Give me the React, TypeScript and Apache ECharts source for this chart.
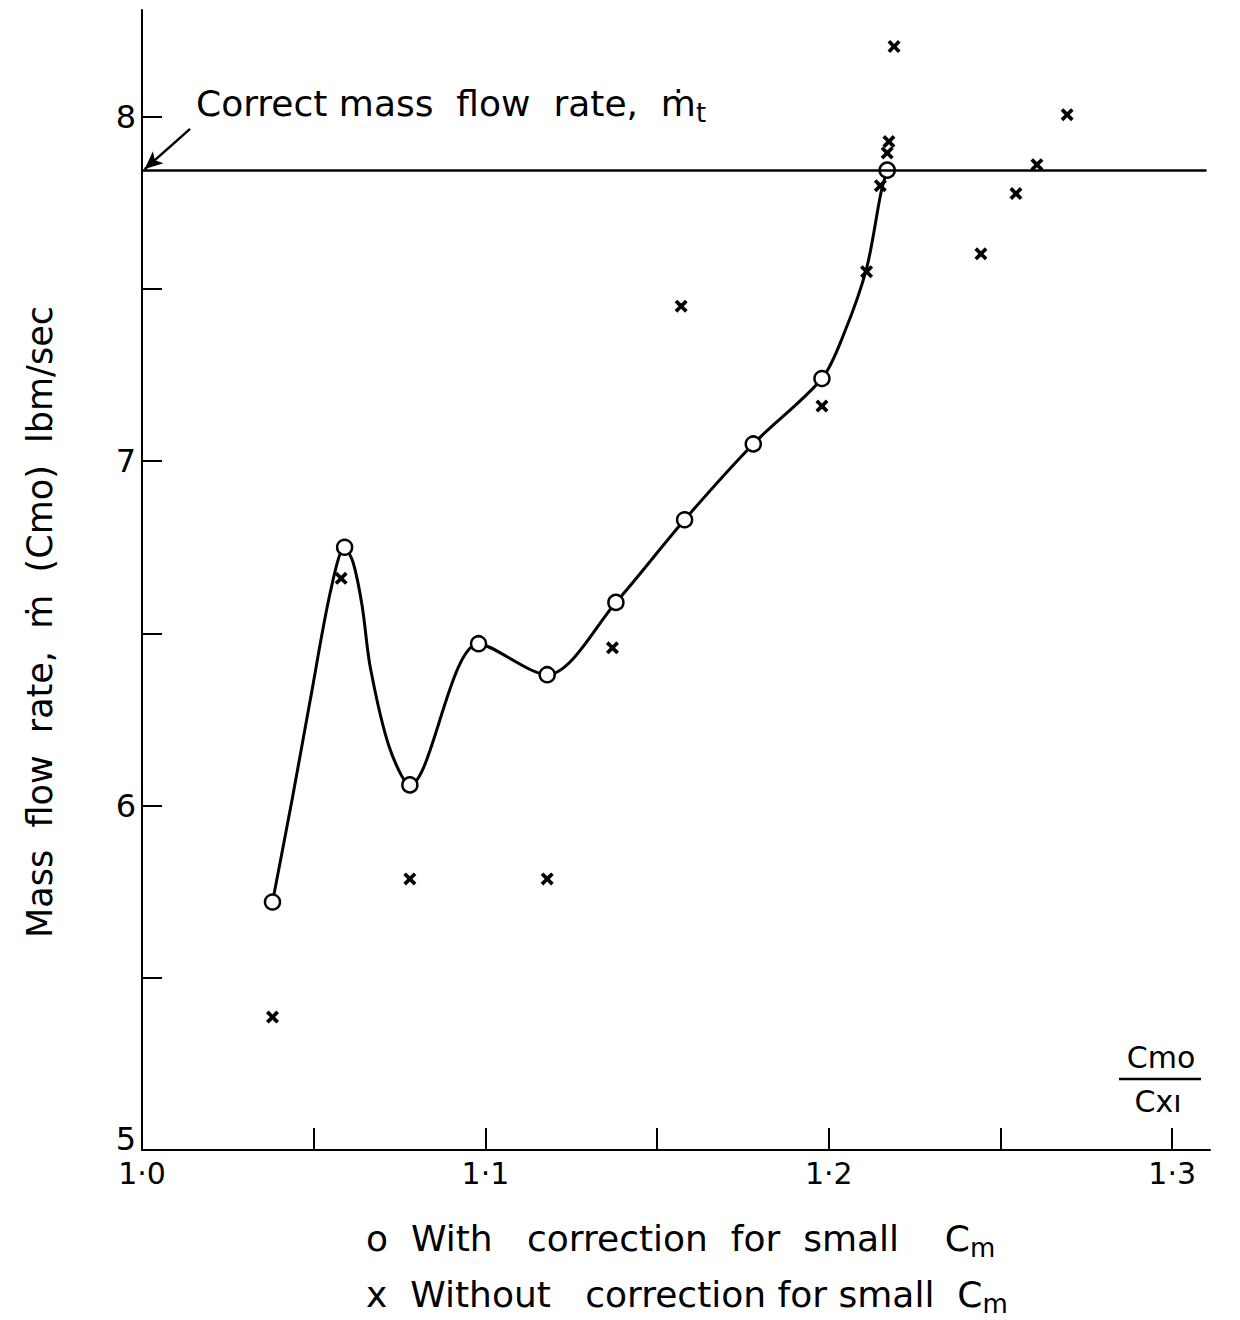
import React, { useEffect, useRef } from "react";
import * as echarts from "echarts";

// Data
const xWith = [1.038, 1.059, 1.078, 1.098, 1.118, 1.138, 1.158, 1.178, 1.198, 1.217];
const yWith = [5.72, 6.75, 6.06, 6.47, 6.38, 6.59, 6.83, 7.05, 7.24, 7.845];

const xWithout = [1.038, 1.058, 1.078, 1.118, 1.137, 1.157, 1.198, 1.211, 1.215, 1.217, 1.2175, 1.219, 1.2443, 1.2545, 1.2606, 1.2694];
const yWithout = [5.386, 6.66, 5.787, 5.787, 6.458, 7.45, 7.16, 7.55, 7.8, 7.895, 7.928, 8.204, 7.602, 7.777, 7.861, 8.006];

// Hand-drawn curve through the corrected points
const curveX = [1.038, 1.0437, 1.049, 1.0548, 1.059, 1.0615, 1.0641, 1.0665, 1.072, 1.078, 1.098, 1.118, 1.138, 1.158, 1.178, 1.198, 1.2044, 1.211, 1.2152, 1.217];
const curveY = [5.72, 6.017, 6.307, 6.618, 6.75, 6.705, 6.58, 6.4, 6.17, 6.06, 6.47, 6.38, 6.59, 6.83, 7.05, 7.24, 7.37, 7.56, 7.78, 7.845];

const correctRate = 7.845;
const xTickLabels: Record<string, string> = { "10": "1·0", "11": "1·1", "12": "1·2", "13": "1·3" };
const yTickLabels: Record<string, string> = { "5": "{low|5}", "6": "6", "7": "7", "8": "8" };

const FONT = "'DejaVu Sans', sans-serif";
const CROSS = "path://M0,2 L2,0 L5,3 L8,0 L10,2 L7,5 L10,8 L8,10 L5,7 L2,10 L0,8 L3,5 Z";

export default function App() {
  const ref = useRef<HTMLDivElement>(null);
  useEffect(() => {
    if (!ref.current) return;
    const chart = echarts.init(ref.current, undefined, { renderer: "svg" });
    const subRich = { sub: { fontSize: 26, fontFamily: FONT, padding: [20, 0, 0, 0] } };
    const option: any = {
      animation: false,
      backgroundColor: "#ffffff",
      textStyle: { fontFamily: FONT, color: "#000" },
      grid: { left: 142, right: 30, top: 10, bottom: 170, containLabel: false },
      xAxis: {
        type: "value",
        min: 1.0,
        max: 1.311,
        interval: 0.05,
        axisLine: { show: true, onZero: false, lineStyle: { color: "#000", width: 2 } },
        axisTick: { show: true, inside: true, length: 22, lineStyle: { color: "#000", width: 2 } },
        splitLine: { show: false },
        axisLabel: {
          color: "#000",
          fontSize: 30,
          fontFamily: FONT,
          margin: 8,
          showMaxLabel: false,
          formatter: (v: number) => {
            const k = v * 10;
            if (Math.abs(k - Math.round(k)) > 1e-6) return "";
            return xTickLabels[String(Math.round(k))] ?? "";
          },
        },
      },
      yAxis: {
        type: "value",
        min: 5,
        max: 8.31,
        interval: 0.5,
        axisLine: { show: true, onZero: false, lineStyle: { color: "#000", width: 2 } },
        axisTick: { show: true, inside: true, length: 20, lineStyle: { color: "#000", width: 2 } },
        splitLine: { show: false },
        axisLabel: {
          color: "#000",
          fontSize: 32,
          fontFamily: FONT,
          margin: 6,
          showMaxLabel: false,
          rich: { low: { fontSize: 32, fontFamily: FONT, padding: [0, 0, 22, 0] } },
          formatter: (v: number) => (Math.abs(v - Math.round(v)) < 1e-6 ? yTickLabels[String(Math.round(v))] ?? "" : ""),
        },
      },
      series: [
        {
          name: "curve",
          type: "line",
          data: curveX.map((x, i) => [x, curveY[i]]),
          smooth: 0.3,
          showSymbol: false,
          symbol: "none",
          lineStyle: { color: "#000", width: 3 },
          z: 2,
          markLine: {
            silent: true,
            symbol: ["none", "none"],
            label: { show: false },
            lineStyle: { color: "#000", width: 2.5, type: "solid" },
            data: [
              [
                { coord: [1.0, correctRate] },
                { coord: [1.31, correctRate] },
              ],
              [
                { coord: [1.014, 7.965], symbol: "none" },
                { coord: [1.0008, 7.848], symbol: "arrow", symbolSize: [12, 18] },
              ],
            ],
          },
        },
        {
          name: "Without correction",
          type: "scatter",
          data: xWithout.map((x, i) => [x, yWithout[i]]),
          symbol: CROSS,
          symbolSize: 13,
          itemStyle: { color: "#000", opacity: 1 },
          z: 3,
        },
        {
          name: "With correction",
          type: "scatter",
          data: xWith.map((x, i) => [x, yWith[i]]),
          symbol: "circle",
          symbolSize: 15,
          itemStyle: { color: "#fff", borderColor: "#000", borderWidth: 2.5, opacity: 1 },
          z: 4,
        },
      ],
      graphic: [
        {
          type: "text",
          left: 196,
          top: 85,
          style: {
            text: "Correct mass  flow  rate,  ṁ{sub|t}",
            fontFamily: FONT,
            fontSize: 36,
            fill: "#000",
            rich: subRich,
          },
        },
        {
          type: "text",
          x: 40,
          y: 622,
          rotation: Math.PI / 2,
          style: {
            text: "Mass  flow  rate,  ṁ  (Cmo)  lbm/sec",
            fontFamily: FONT,
            fontSize: 35,
            fill: "#000",
            align: "center",
            verticalAlign: "middle",
          },
        },
        {
          type: "text",
          x: 1161,
          y: 1057,
          style: { text: "Cmo", fontFamily: FONT, fontSize: 30, fill: "#000", align: "center", verticalAlign: "middle" },
        },
        {
          type: "line",
          shape: { x1: 1119, y1: 1079, x2: 1201, y2: 1079 },
          style: { stroke: "#000", lineWidth: 2.5 },
        },
        {
          type: "text",
          x: 1158,
          y: 1101,
          style: { text: "Cxı", fontFamily: FONT, fontSize: 30, fill: "#000", align: "center", verticalAlign: "middle" },
        },
        {
          type: "text",
          left: 366,
          top: 1220,
          style: {
            text: "o  With   correction  for  small    C{sub|m}",
            fontFamily: FONT,
            fontSize: 36,
            fill: "#000",
            rich: subRich,
          },
        },
        {
          type: "text",
          left: 366,
          top: 1276,
          style: {
            text: "x  Without   correction for small  C{sub|m}",
            fontFamily: FONT,
            fontSize: 36,
            fill: "#000",
            rich: subRich,
          },
        },
      ],
    };
    chart.setOption(option);
    return () => chart.dispose();
  }, []);
  return (
    <div
      ref={ref}
      style={{ position: "absolute", left: 0, top: 0, width: 1240, height: 1320, background: "#fff" }}
    />
  );
}
